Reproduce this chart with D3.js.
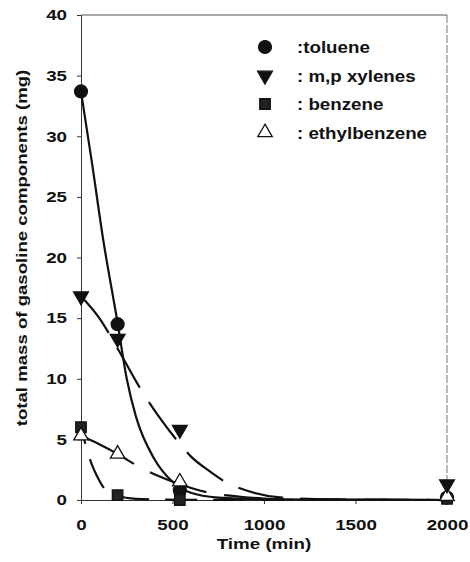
<!DOCTYPE html>
<html>
<head>
<meta charset="utf-8">
<script src="https://cdn.jsdelivr.net/npm/d3@7"></script>
<style>
  body { margin: 0; background: #fff; }
  text { font-family: "Liberation Sans", Arial, sans-serif; font-weight: bold; fill: #111; }
</style>
</head>
<body>
<div id="graph"></div>
<script>
// Data ///////////////////////////////////////////////////////////////////////
const times = [0, 200, 540, 2000];
const toluene = [33.7, 14.5, 0.8, 0.2];
const xylenes = [16.8, 13.3, 5.8, 1.3];
const benzene = [6.0, 0.4, 0.0, 0.1];
const ethylbenzene = [5.3, 3.8, 1.5, 0.3];

// fitted curves
const tolueneFitT = [0, 60, 120, 200, 250, 300, 400, 500, 600, 750, 1000, 2000];
const tolueneFitV = [33.7, 27.8, 21.6, 14.6, 10.0, 6.9, 3.4, 1.5, 0.6, 0.2, 0.05, 0];
const xylenesFitT = [0, 100, 200, 320, 420, 520, 600, 700, 800, 900, 1100, 1400, 2000];
const xylenesFitV = [16.8, 15.0, 12.5, 9.3, 7.0, 5.0, 3.6, 2.4, 1.4, 0.8, 0.2, 0.05, 0];
const benzeneFitT = [0, 30, 60, 90, 120, 160, 200, 300, 540, 2000];
const benzeneFitV = [6.0, 4.3, 2.9, 1.9, 1.1, 0.6, 0.35, 0.1, 0.02, 0];
const ethylFitT = [0, 100, 200, 310, 420, 540, 700, 850, 1000, 1200, 2000];
const ethylFitV = [5.3, 4.6, 3.8, 2.8, 2.0, 1.3, 0.6, 0.3, 0.12, 0.03, 0];

const xTicks = [0, 500, 1000, 1500, 2000];
const yTicks = [0, 5, 10, 15, 20, 25, 30, 35, 40];
const legendLabels = [":toluene", ": m,p xylenes", ": benzene", ": ethylbenzene"];

// Layout /////////////////////////////////////////////////////////////////////
const svgWidth = 470;
const svgHeight = 562;
const margin = { top: 15, right: 23, bottom: 62, left: 81 };
const plotW = svgWidth - margin.left - margin.right;
const plotH = svgHeight - margin.top - margin.bottom;

const svg = d3
  .select("#graph")
  .append("svg")
  .attr("width", svgWidth)
  .attr("height", svgHeight);

const g = svg
  .append("g")
  .attr("transform", `translate(${margin.left}, ${margin.top})`);

const x = d3.scaleLinear().domain([0, 2000]).range([0, plotW]);
const y = d3.scaleLinear().domain([0, 40]).range([plotH, 0]);

// the scanned font is wider than Arial, stretch glyphs a bit
function stretch(sel, factor) {
  sel.each(function () {
    const len = this.getComputedTextLength();
    d3.select(this)
      .attr("textLength", len * factor)
      .attr("lengthAdjust", "spacingAndGlyphs");
  });
}

// Frame
g.append("line")
  .attr("x1", 0).attr("x2", plotW).attr("y1", 0).attr("y2", 0)
  .style("stroke", "#555").style("stroke-width", 1);
g.append("line")
  .attr("x1", plotW).attr("x2", plotW).attr("y1", 0).attr("y2", plotH)
  .style("stroke", "#777").style("stroke-width", 1)
  .style("stroke-dasharray", "8,2");

// Axes
const xAxis = g
  .append("g")
  .attr("transform", `translate(0, ${plotH})`)
  .call(d3.axisBottom(x).tickValues(xTicks).tickFormat(d3.format("d")).tickSize(4).tickPadding(15));
const yAxis = g
  .append("g")
  .call(d3.axisLeft(y).tickValues(yTicks).tickFormat(d3.format("d")).tickSize(4).tickPadding(10));

[xAxis, yAxis].forEach(ax => {
  ax.select(".domain").style("stroke", "#333").style("stroke-width", 1);
  ax.selectAll(".tick line").style("stroke", "#333");
  ax.selectAll("text")
    .style("font-family", "'Liberation Sans', Arial, sans-serif")
    .style("font-weight", "bold")
    .style("font-size", "15px")
    .style("fill", "#111")
    .call(stretch, 1.25);
});

// Axis titles
svg.append("text")
  .attr("x", margin.left + x(1000))
  .attr("y", 549)
  .attr("text-anchor", "middle")
  .style("font-size", "15px")
  .text("Time (min)")
  .call(stretch, 1.25);

svg.append("text")
  .attr("transform", `translate(27, 248) rotate(-90)`)
  .attr("text-anchor", "middle")
  .style("font-size", "15px")
  .text("total mass of gasoline components (mg)")
  .call(stretch, 1.24);

// Curves
const line = d3
  .line()
  .x(d => x(d[0]))
  .y(d => y(d[1]))
  .curve(d3.curveMonotoneX);

const fits = [
  { t: tolueneFitT, v: tolueneFitV, dash: null, offset: 0 },
  { t: xylenesFitT, v: xylenesFitV, dash: "46,17", offset: 0 },
  { t: benzeneFitT, v: benzeneFitV, dash: "32,16", offset: 15 },
  { t: ethylFitT, v: ethylFitV, dash: "60,18", offset: 0 }
];

g.selectAll(".fit")
  .data(fits)
  .join("path")
  .attr("class", "fit")
  .attr("d", d => line(d.t.map((t, i) => [t, d.v[i]])))
  .style("fill", "none")
  .style("stroke", "#111")
  .style("stroke-width", 2.2)
  .style("stroke-dasharray", d => d.dash)
  .style("stroke-dashoffset", d => d.offset);

// Markers
const symbols = [
  { type: d3.symbolCircle, size: 130, fill: "#111", rot: 0 },
  { type: d3.symbolTriangle, size: 95, fill: "#111", rot: 180 },
  { type: d3.symbolSquare, size: 110, fill: "#222", rot: 0 },
  { type: d3.symbolTriangle, size: 90, fill: "#fff", rot: 0 }
];
const seriesValues = [toluene, xylenes, benzene, ethylbenzene];

const order = [0, 2, 3, 1];
order.forEach(k => {
  const s = symbols[k];
  g.selectAll(`.marker-${k}`)
    .data(times.map((t, i) => [t, seriesValues[k][i]]))
    .join("path")
    .attr("class", `marker-${k}`)
    .attr("transform", d => `translate(${x(d[0])}, ${y(d[1])}) rotate(${s.rot})`)
    .attr("d", d3.symbol().type(s.type).size(s.size))
    .style("fill", s.fill)
    .style("stroke", "#111")
    .style("stroke-width", 1.3);
});

// Legend
const legend = svg
  .append("g")
  .attr("transform", "translate(265, 47)");

const legendItem = legend
  .selectAll(".legendItem")
  .data(legendLabels)
  .join("g")
  .attr("class", "legendItem")
  .attr("transform", (d, i) => `translate(0, ${i * 28.5})`);

legendItem
  .append("path")
  .attr("transform", (d, i) => `rotate(${symbols[i].rot})`)
  .attr("d", (d, i) => d3.symbol().type(symbols[i].type).size(symbols[i].size)())
  .style("fill", (d, i) => symbols[i].fill)
  .style("stroke", "#111")
  .style("stroke-width", 1.3);

legendItem
  .append("text")
  .attr("x", 32)
  .attr("y", 6)
  .style("font-size", "16px")
  .text(d => d)
  .call(stretch, 1.17);
</script>
</body>
</html>
